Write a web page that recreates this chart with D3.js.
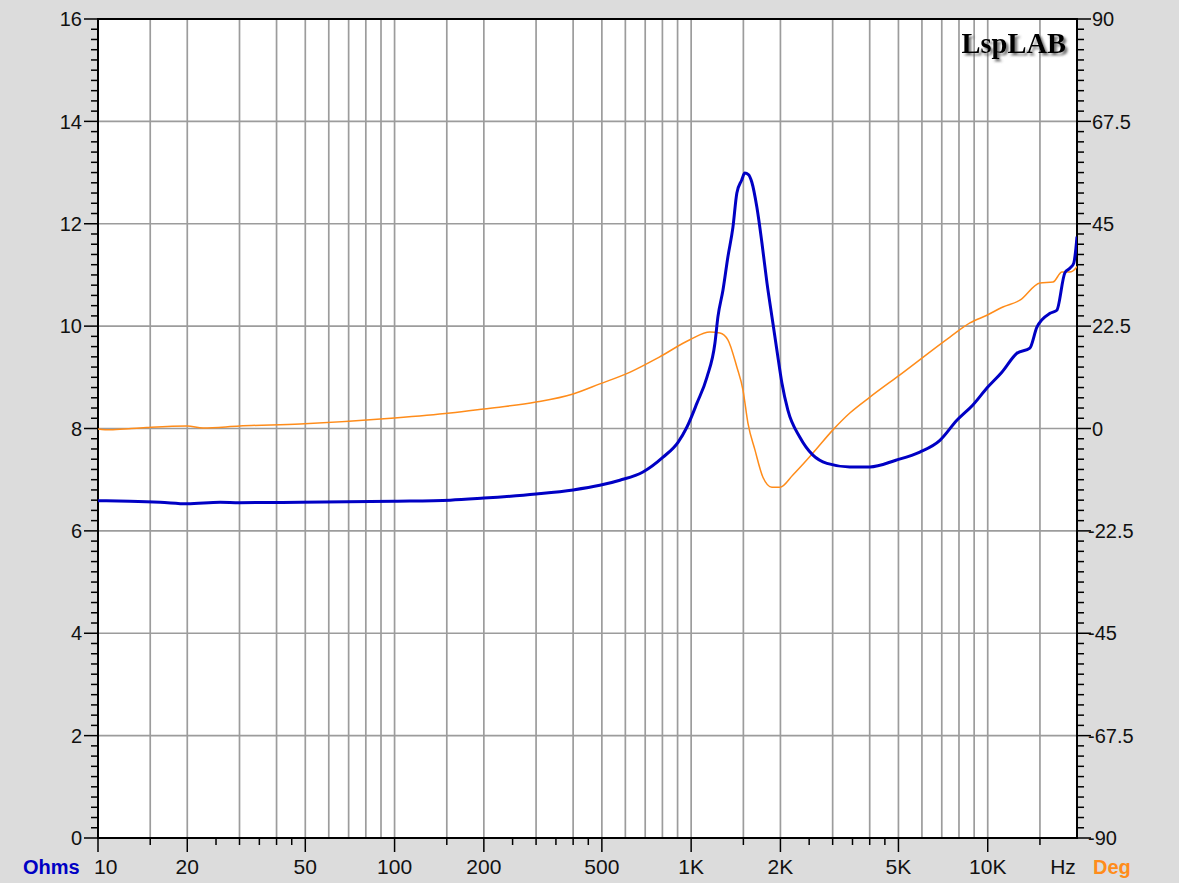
<!DOCTYPE html>
<html><head><meta charset="utf-8">
<script src="https://cdn.jsdelivr.net/npm/d3@7"></script>
<style>html,body{margin:0;padding:0;background:#dcdcdc;}svg{display:block;}</style>
</head><body>
<script>
// ---- data ----
const impFreq = [10,12.8,16.2,20,25.8,30,48,100,154,200,300,400,492,575,688,804,903,968,1047,1130,1203,1231,1280,1330,1383,1426,1480,1517,1560,1602,1666,1733,1802,1873,1946,2023,2119,2326,2574,2870,3428,4006,4899,5903,6900,7870,8913,9937,11160,12545,13870,14650,16220,17100,18200,18920,19500,19830,20000];
const impOhms = [6.59,6.58,6.56,6.53,6.56,6.55,6.56,6.58,6.60,6.64,6.72,6.80,6.89,6.99,7.15,7.44,7.73,8.03,8.50,9.00,9.67,10.18,10.70,11.35,11.93,12.60,12.85,12.99,12.96,12.81,12.32,11.62,10.84,10.18,9.53,8.89,8.36,7.83,7.48,7.32,7.25,7.25,7.38,7.54,7.77,8.16,8.46,8.79,9.10,9.47,9.57,9.98,10.25,10.31,11.04,11.13,11.23,11.52,11.75];
const phFreq = [10,11,13,14.6,20,22.6,30,48,100,154,200,300,400,492,623,781,990,1157,1250,1330,1426,1495,1554,1641,1746,1873,1993,2203,2574,3007,3428,4006,5058,7457,8710,9937,11250,12840,15000,16600,17800,18920,19830,20000];
const phDeg = [-0.1,-0.3,0,0.2,0.55,0.1,0.55,1.0,2.3,3.4,4.3,5.8,7.6,9.8,12.4,15.7,19.5,21.2,21.0,19.5,13.5,8.5,1.2,-4.7,-10.7,-12.9,-12.9,-10.2,-5.4,-0.3,3.4,6.9,11.8,20.1,23.2,24.9,26.7,28.2,32.0,32.2,34.4,34.4,35.3,35.6];
const xTickLabels = [[10,"10"],[20,"20"],[50,"50"],[100,"100"],[200,"200"],[500,"500"],[1000,"1K"],[2000,"2K"],[5000,"5K"],[10000,"10K"],[20000,"Hz"]];
const leftTicks = [0,2,4,6,8,10,12,14,16];
const rightTicks = [-90,-67.5,-45,-22.5,0,22.5,45,67.5,90];
const gridMult = [1,1.5,2,3,4,5,6,7,8,9];
const tickMult = [1,1.5,2,2.5,3,3.5,4,4.5,5];

// ---- layout ----
const W = 1179, H = 883;
const L = 98, R = 1077, T = 19, B = 838;
const svg = d3.select("body").append("svg").attr("width", W).attr("height", H);
svg.append("rect").attr("width", W).attr("height", H).attr("fill", "#dcdcdc");

const x = d3.scaleLog().domain([10, 20000]).range([L, R]);
const yZ = d3.scaleLinear().domain([0, 16]).range([B, T]);
const yP = d3.scaleLinear().domain([-90, 90]).range([B, T]);

svg.append("rect").attr("x", L).attr("y", T).attr("width", R - L).attr("height", B - T).attr("fill", "#fff");

// grid
const gridVals = [];
[10,100,1000,10000].forEach(d => gridMult.forEach(m => { const v = d*m; if (v > 10 && v < 20000) gridVals.push(v); }));
const grid = svg.append("g").attr("stroke", "#9c9c9c").attr("stroke-width", 1.7);
grid.selectAll("line.v").data(gridVals).join("line")
  .attr("x1", d => x(d)).attr("x2", d => x(d)).attr("y1", T).attr("y2", B);
grid.selectAll("line.h").data(leftTicks.filter(d => d > 0 && d < 16)).join("line").attr("class","h")
  .attr("x1", L).attr("x2", R).attr("y1", d => yZ(d)).attr("y2", d => yZ(d));

// x ticks
const tickVals = [];
[10,100,1000,10000].forEach(d => tickMult.forEach(m => { const v = d*m; if (v < 20000) tickVals.push(v); }));
const majorSet = new Set([10,20,50,100,200,500,1000,2000,5000,10000]);
const ax = svg.append("g").attr("stroke", "#000").attr("stroke-width", 1.5);
ax.selectAll("line.xt").data(tickVals).join("line").attr("class","xt")
  .attr("x1", d => x(d)).attr("x2", d => x(d)).attr("y1", B).attr("y2", d => B + (majorSet.has(d) ? 14 : 7));

// y ticks (minor every 0.2 ohm)
const minorY = d3.range(0, 80.5).map(i => i * 0.2);
ax.selectAll("line.yl").data(minorY).join("line").attr("class","yl")
  .attr("x1", d => L - (Math.abs(d/2 - Math.round(d/2)) < 1e-6 ? 14 : 7)).attr("x2", L)
  .attr("y1", d => yZ(d)).attr("y2", d => yZ(d));
ax.selectAll("line.yr").data(minorY).join("line").attr("class","yr")
  .attr("x1", R).attr("x2", d => R + (Math.abs(d/2 - Math.round(d/2)) < 1e-6 ? 14 : 7))
  .attr("y1", d => yZ(d)).attr("y2", d => yZ(d));

// frame
svg.append("rect").attr("x", L).attr("y", T).attr("width", R - L).attr("height", B - T)
  .attr("fill", "none").attr("stroke", "#000").attr("stroke-width", 2);

// curves
const lineZ = d3.line().x((d,i) => x(impFreq[i])).y(d => yZ(d)).curve(d3.curveMonotoneX);
const lineP = d3.line().x((d,i) => x(phFreq[i])).y(d => yP(d)).curve(d3.curveMonotoneX);
svg.append("clipPath").attr("id","clip").append("rect").attr("x", L).attr("y", T).attr("width", R-L).attr("height", B-T);
const curves = svg.append("g").attr("clip-path","url(#clip)");
curves.append("path").attr("d", lineP(phDeg)).attr("fill","none").attr("stroke","#ff8c1a").attr("stroke-width",1.5);
curves.append("path").attr("d", lineZ(impOhms)).attr("fill","none").attr("stroke","#0000c4").attr("stroke-width",3).attr("stroke-linejoin","round");

// labels
const font = "'Liberation Sans', Arial, sans-serif";
svg.append("g").selectAll("text").data(leftTicks).join("text")
  .attr("x", 82).attr("y", d => yZ(d)).attr("dy", "0.36em").attr("text-anchor", "end")
  .attr("font-family", font).attr("font-size", 20).attr("fill", "#111").text(d => d);
svg.append("g").selectAll("text").data(rightTicks).join("text")
  .attr("x", d => d < 0 ? 1088 : 1092).attr("y", d => yP(d)).attr("dy", "0.36em").attr("text-anchor", "start")
  .attr("font-family", font).attr("font-size", 20).attr("fill", "#111").text(d => d);
svg.append("g").selectAll("text").data(xTickLabels).join("text")
  .attr("x", (d,i) => i === 0 ? x(d[0]) - 4 : (d[1] === "Hz" ? x(d[0]) - 14 : x(d[0])))
  .attr("y", 874).attr("text-anchor", (d,i) => i === 0 ? "start" : "middle")
  .attr("font-family", font).attr("font-size", 21).attr("fill", "#111").text(d => d[1]);
svg.append("text").attr("x", 23).attr("y", 874).attr("font-family", font).attr("font-size", 20)
  .attr("font-weight", "bold").attr("fill", "#0000c4").text("Ohms");
svg.append("text").attr("x", 1093).attr("y", 874).attr("font-family", font).attr("font-size", 20)
  .attr("font-weight", "bold").attr("fill", "#ff8c1a").text("Deg");

// title with shadow
const defs = svg.append("defs");
const f = defs.append("filter").attr("id","sh").attr("x","-10%").attr("y","-30%").attr("width","130%").attr("height","160%");
f.append("feDropShadow").attr("dx",2.5).attr("dy",2.5).attr("stdDeviation",1.2).attr("flood-color","#555").attr("flood-opacity",0.8);
svg.append("text").attr("x", 1066).attr("y", 53).attr("text-anchor","end")
  .attr("font-family","'Liberation Serif','Times New Roman',serif").attr("font-weight","bold").attr("font-size",28.5)
  .attr("fill","#000").attr("filter","url(#sh)").text("LspLAB");
</script>
</body></html>
